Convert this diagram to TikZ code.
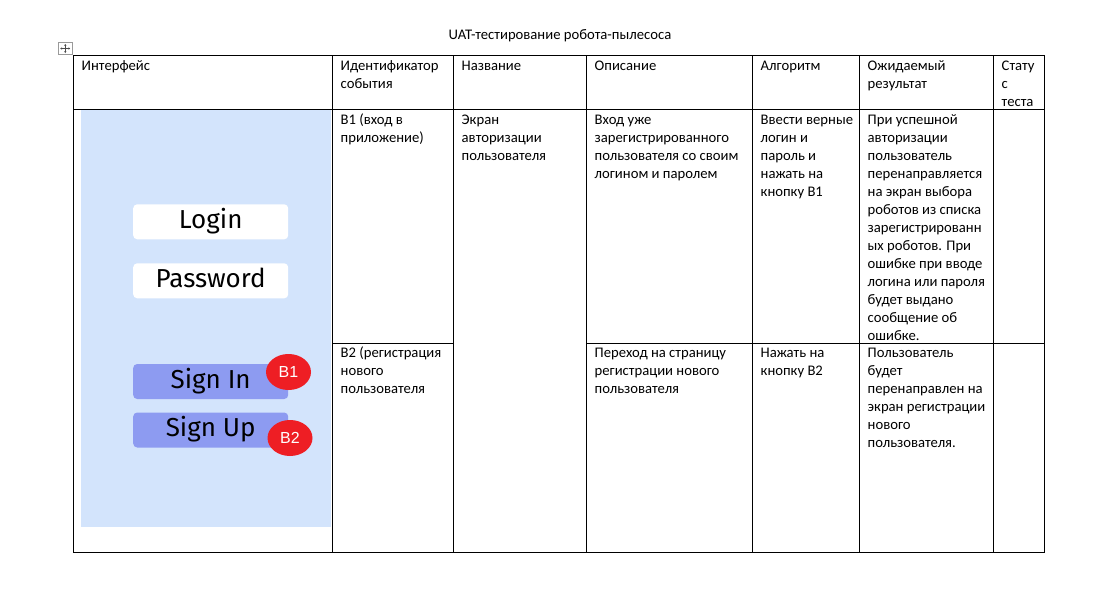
\documentclass[tikz,border=0pt]{standalone}
\usepackage{fontspec}
\setmainfont{Carlito}
\newfontfamily\btnfont{Fira Sans}
\newfontfamily\badgefont{Liberation Sans}
\usetikzlibrary{shapes.geometric,arrows.meta}
\definecolor{panelblue}{HTML}{D3E4FC}
\definecolor{btnblue}{HTML}{8D9BF1}
\definecolor{badgered}{HTML}{EE1E24}
\definecolor{icongray}{HTML}{9A9A9A}
\tikzset{
  grid/.style={line width=1pt, draw=black},
  cell/.style={anchor=north west, inner sep=0pt, align=left,
    font=\fontsize{14.67}{18}\selectfont},
  field/.style={fill=white, rounded corners=4pt, minimum width=155pt,
    minimum height=35pt, inner sep=0pt, text height=17.5pt, text depth=3.6pt,
    font=\btnfont\fontsize{26}{30}\selectfont},
  btn/.style={field, fill=btnblue},
  badge/.style={ellipse, fill=badgered, minimum width=45pt, minimum height=36pt,
    inner sep=0pt, text=white, font=\badgefont\fontsize{16}{18}\selectfont},
}
\begin{document}
\begin{tikzpicture}[x=1pt,y=-1pt]
\useasboundingbox (0,0) rectangle (1120,590);
\fill[white] (0,0) rectangle (1120,590);

% title
\node[anchor=base, inner sep=0pt, font=\fontsize{14.67}{18}\selectfont] (title) at (560,39.5) {UAT-тестирование робота-пылесоса};

% move handle icon
\draw[icongray, line width=0.8pt] (58.5,42.5) rectangle (72,54.5);
\coordinate (ic) at (65.25,48.5);
\draw[black!70, line width=0.6pt, -{Stealth[length=1.8pt,width=2.2pt]}] (ic) -- ++(0,-4.5);
\draw[black!70, line width=0.6pt, -{Stealth[length=1.8pt,width=2.2pt]}] (ic) -- ++(0,4.5);
\draw[black!70, line width=0.6pt, -{Stealth[length=1.8pt,width=2.2pt]}] (ic) -- ++(-5,0);
\draw[black!70, line width=0.6pt, -{Stealth[length=1.8pt,width=2.2pt]}] (ic) -- ++(5,0);

% interface panel
\fill[panelblue] (81,110) rectangle (331,526.5);
\node[field] (login) at (210.7,221.8) {Login};
\node[field] (password) at (210.7,280.8) {Password};
\node[btn] (signin) at (210.7,381.5) {Sign In};
\node[btn] (signup) at (210.7,430) {Sign Up};
\node[badge] (b1) at (288.5,372) {B1};
\node[badge] (b2) at (290,438) {B2};

% table grid
\draw[grid] (73,55) rectangle (1044,552);
\draw[grid] (73,109) -- (1044,109);
\foreach \cx in {332,453,586,752,859,993} {
  \draw[grid] (\cx,55) -- (\cx,552);
}
\draw[grid] (332,343) -- (453,343);
\draw[grid] (586,343) -- (1044,343);

% header row
\node[cell] (h1) at (81.5,57.4) {\strut Интерфейс};
\node[cell] (h2) at (340.5,57.4) {\strut Идентификатор\\события};
\node[cell] (h3) at (461.5,57.4) {\strut Название};
\node[cell] (h4) at (594.5,57.4) {\strut Описание};
\node[cell] (h5) at (760.5,57.4) {\strut Алгоритм};
\node[cell] (h6) at (867.5,57.4) {\strut Ожидаемый\\результат};
\node[cell] (h7) at (1001.5,57.4) {\strut Стату\\с\\теста};

% row 1
\node[cell] (r1c2) at (340.5,111.4) {\strut B1 (вход в\\приложение)};
\node[cell] (r1c3) at (461.5,111.4) {\strut Экран\\авторизации\\пользователя};
\node[cell] (r1c4) at (594.5,111.4) {\strut Вход уже\\зарегистрированного\\пользователя со своим\\логином и паролем};
\node[cell] (r1c5) at (760.5,111.4) {\strut Ввести верные\\логин и\\пароль и\\нажать на\\кнопку B1};
\node[cell] (r1c6) at (867.5,111.4) {\strut При успешной\\авторизации\\пользователь\\перенаправляется\\на экран выбора\\роботов из списка\\зарегистрированн\\ых роботов. При\\ошибке при вводе\\логина или пароля\\будет выдано\\сообщение об\\ошибке.};

% row 2
\node[cell] (r2c2) at (340.5,344.4) {\strut B2 (регистрация\\нового\\пользователя};
\node[cell] (r2c4) at (594.5,344.4) {\strut Переход на страницу\\регистрации нового\\пользователя};
\node[cell] (r2c5) at (760.5,344.4) {\strut Нажать на\\кнопку B2};
\node[cell] (r2c6) at (867.5,344.4) {\strut Пользователь\\будет\\перенаправлен на\\экран регистрации\\нового\\пользователя.};
\end{tikzpicture}
\end{document}
